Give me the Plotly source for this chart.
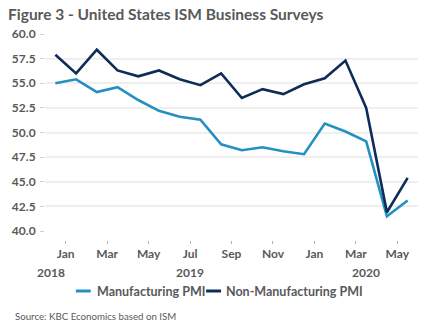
import plotly.graph_objects as go

# ---- data ----
months = ["Dec 2018", "Jan 2019", "Feb 2019", "Mar 2019", "Apr 2019", "May 2019",
          "Jun 2019", "Jul 2019", "Aug 2019", "Sep 2019", "Oct 2019", "Nov 2019",
          "Dec 2019", "Jan 2020", "Feb 2020", "Mar 2020", "Apr 2020", "May 2020"]
manufacturing = [55.0, 55.4, 54.1, 54.6, 53.3, 52.2, 51.6, 51.3, 48.8, 48.2,
                 48.5, 48.1, 47.8, 50.9, 50.1, 49.1, 41.5, 43.1]
non_manufacturing = [57.9, 56.0, 58.4, 56.3, 55.7, 56.3, 55.4, 54.8, 56.0, 53.5,
                     54.4, 53.9, 54.9, 55.5, 57.3, 52.5, 41.9, 45.4]
tick_labels = ["Jan", "Mar", "May", "Jul", "Sep", "Nov", "Jan", "Mar", "May"]
year_labels = ["2018", "2019", "2020"]
y_ticks = [40.0, 42.5, 45.0, 47.5, 50.0, 52.5, 55.0, 57.5, 60.0]
series_names = ["Manufacturing PMI", "Non-Manufacturing PMI"]
series_colors = ["#2490c2", "#0e2c58"]

GREY = "#595959"
FONT = "Lato"

x = list(range(len(months)))
tick_pos = [2 * i + 0.5 for i in range(len(tick_labels))]
jan_pos = [p for p, t in zip(tick_pos, tick_labels) if t == "Jan"]
year_pos = [-0.2, 6.5, 15.0]

fig = go.Figure()
for vals, name, col in zip([manufacturing, non_manufacturing], series_names, series_colors):
    fig.add_trace(go.Scatter(x=x, y=vals, name=name, mode="lines",
                             line=dict(color=col, width=2.6), showlegend=False))

axis_font = dict(family=FONT, size=12, color=GREY, weight=700)

fig.update_layout(
    width=432, height=334,
    margin=dict(l=43, r=14, t=34, b=50),
    paper_bgcolor="white", plot_bgcolor="white",
    title=dict(text="Figure 3 - United States ISM Business Surveys",
               font=dict(family=FONT, size=15.5, color=GREY, weight=700),
               xref="container", yref="container", x=8 / 432, xanchor="left",
               y=1 - 15 / 334, yanchor="middle"),
    yaxis=dict(range=[40, 60], domain=[0.212, 1], tickvals=y_ticks,
               ticktext=[f"{v:.1f}" for v in y_ticks],
               showgrid=True, gridcolor="#efefef", gridwidth=2,
               ticks="outside", ticklen=4, tickcolor="#d0d0d0", tickwidth=1,
               zeroline=False, showline=False, tickfont=axis_font,
               ticklabelstandoff=2),
    xaxis=dict(range=[-0.5, 17.5], anchor="free", position=0.176,
               tickvals=tick_pos, ticktext=tick_labels, ticks="outside",
               ticklen=3, tickcolor="#b0b0b0", tickwidth=1,
               showgrid=False, zeroline=False, showline=False, tickfont=axis_font),
    xaxis2=dict(range=[-0.5, 17.5], anchor="free", position=0.176, overlaying="x",
                tickvals=jan_pos, ticks="outside", ticklen=5, tickcolor="#b0b0b0",
                tickwidth=1, showticklabels=False, showgrid=False, zeroline=False,
                showline=False),
    showlegend=False,
)

for yl, xp in zip(year_labels, year_pos):
    fig.add_annotation(text=yl, x=xp, xref="x", y=0.048, yref="paper",
                       showarrow=False, font=axis_font, xanchor="center", yanchor="middle")

# legend (swatch + bold label), laid out like the reference
legend_y = -0.028
legend_items = [(0.0827, 0.1227, 0.1333), (0.432, 0.472, 0.480)]
for (sx0, sx1, tx), name, col in zip(legend_items, series_names, series_colors):
    fig.add_shape(type="line", xref="paper", yref="paper", x0=sx0, x1=sx1,
                  y0=legend_y, y1=legend_y, line=dict(color=col, width=3))
    fig.add_annotation(text=name, x=tx, xref="paper", y=legend_y, yref="paper",
                       xanchor="left", yanchor="middle", showarrow=False,
                       font=dict(family=FONT, size=12.5, color=GREY, weight=700))

fig.add_annotation(text="Source: KBC Economics based on ISM", x=-32 / 375, xref="paper",
                   y=-0.128, yref="paper", xanchor="left", yanchor="middle", showarrow=False,
                   font=dict(family=FONT, size=9.7, color=GREY))

fig.write_html("out.html")
